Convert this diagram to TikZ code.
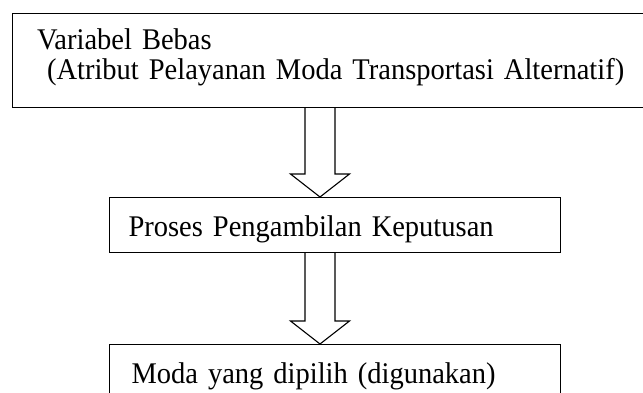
\documentclass[tikz,border=0pt]{standalone}
\usepackage{fontspec}
\setmainfont[FakeStretch=0.95]{Liberation Serif}
\usetikzlibrary{calc}

% hollow block arrow from the bottom of one box to the top of the next
\newcommand{\hollowarrow}[2]{%
    \draw[line join=miter]
        ($(#1.south -| ax)+(-15,0)$) -- ($(#2.north -| ax)+(-15,-23)$)
        -- ++(-14.5,0) -- (#2.north -| ax) -- ++(29.5,-23) -- ++(-14.5,0)
        -- ($(#1.south -| ax)+(15,0)$);
}

\begin{document}
\begin{tikzpicture}[x=1pt, y=-1pt, line width=1.1pt,
    box/.style={draw, rectangle, anchor=north west, align=left, inner ysep=0pt,
        font=\fontsize{30}{30}\selectfont}]
    % Fix the frame
    \useasboundingbox (0,0) rectangle (643,392);
    % Column of the arrows
    \coordinate (ax) at (320,0);
    % Boxes
    \node[box, inner xsep=24.5pt, text width=599pt, text height=36pt, text depth=58pt] (bebas) at (12,13)
        {Variabel Bebas\\\ (Atribut Pelayanan Moda Transportasi Alternatif)};
    \node[box, inner xsep=19pt, text width=413pt, text height=39pt, text depth=16pt] (proses) at (109,197)
        {Proses Pengambilan Keputusan};
    \node[box, inner xsep=22pt, text width=407pt, text height=39pt, text depth=16pt] (moda) at (109,344)
        {Moda yang dipilih (digunakan)};
    % Arrows between boxes
    \hollowarrow{bebas}{proses}
    \hollowarrow{proses}{moda}
\end{tikzpicture}
\end{document}
